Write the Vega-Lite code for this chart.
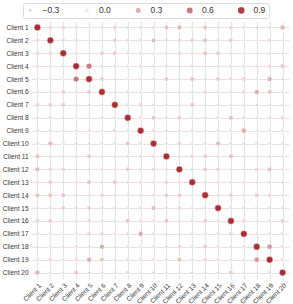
{
"$schema": "https://vega.github.io/schema/vega-lite/v6.json",
"width": 258, "height": 258,
"padding": {"left": 2, "top": 2, "right": 0, "bottom": 0},
"config": {
  "view": {"stroke": null},
  "font": "Liberation Sans",
  "axis": {"domain": false, "ticks": false, "grid": true, "gridColor": "#e2e2e2", "gridWidth": 1, "labelFont": "Liberation Sans", "labelFontSize": 6.5, "labelColor": "#333333", "labelPadding": 3, "title": null},
  "legend": {"orient": "none", "legendX": -8, "legendY": -18, "direction": "horizontal", "strokeColor": "#dddddd", "padding": 3, "cornerRadius": 2, "labelFont": "Liberation Sans", "labelFontSize": 8.5, "labelColor": "#333333", "columnPadding": 22.5, "labelOffset": 8, "symbolStrokeWidth": 0, "title": null}
},
"data": {"values": [
{"r":1,"c":1,"v":1},{"r":1,"c":2,"v":0.1},{"r":1,"c":3,"v":0.1},{"r":1,"c":4,"v":0.05},{"r":1,"c":5,"v":0},{"r":1,"c":6,"v":0.05},{"r":1,"c":7,"v":0.12},{"r":1,"c":8,"v":-0.22},{"r":1,"c":9,"v":0.05},{"r":1,"c":10,"v":0.05},{"r":1,"c":11,"v":0.2},{"r":1,"c":12,"v":0.25},{"r":1,"c":13,"v":0.03},{"r":1,"c":14,"v":0.18},{"r":1,"c":15,"v":-0.12},{"r":1,"c":16,"v":0.12},{"r":1,"c":17,"v":0.04},{"r":1,"c":18,"v":-0.22},{"r":1,"c":19,"v":0.04},{"r":1,"c":20,"v":0.28},
{"r":2,"c":1,"v":0.1},{"r":2,"c":2,"v":1},{"r":2,"c":3,"v":0.1},{"r":2,"c":4,"v":0.03},{"r":2,"c":5,"v":0},{"r":2,"c":6,"v":-0.12},{"r":2,"c":7,"v":0.15},{"r":2,"c":8,"v":0.05},{"r":2,"c":9,"v":0.05},{"r":2,"c":10,"v":0.25},{"r":2,"c":11,"v":0.04},{"r":2,"c":12,"v":0.1},{"r":2,"c":13,"v":0.15},{"r":2,"c":14,"v":0.2},{"r":2,"c":15,"v":0.04},{"r":2,"c":16,"v":0.15},{"r":2,"c":17,"v":0},{"r":2,"c":18,"v":0},{"r":2,"c":19,"v":0.1},{"r":2,"c":20,"v":0},
{"r":3,"c":1,"v":0.1},{"r":3,"c":2,"v":0.1},{"r":3,"c":3,"v":1},{"r":3,"c":4,"v":0.03},{"r":3,"c":5,"v":0},{"r":3,"c":6,"v":0.15},{"r":3,"c":7,"v":0.15},{"r":3,"c":8,"v":-0.12},{"r":3,"c":9,"v":0.04},{"r":3,"c":10,"v":0},{"r":3,"c":11,"v":0.04},{"r":3,"c":12,"v":0.1},{"r":3,"c":13,"v":0.04},{"r":3,"c":14,"v":0.2},{"r":3,"c":15,"v":0.15},{"r":3,"c":16,"v":0.04},{"r":3,"c":17,"v":0},{"r":3,"c":18,"v":0.04},{"r":3,"c":19,"v":0.03},{"r":3,"c":20,"v":-0.08},
{"r":4,"c":1,"v":0.05},{"r":4,"c":2,"v":0.03},{"r":4,"c":3,"v":0.03},{"r":4,"c":4,"v":1},{"r":4,"c":5,"v":0.6},{"r":4,"c":6,"v":0.05},{"r":4,"c":7,"v":0.04},{"r":4,"c":8,"v":0},{"r":4,"c":9,"v":0.04},{"r":4,"c":10,"v":-0.12},{"r":4,"c":11,"v":0.04},{"r":4,"c":12,"v":-0.25},{"r":4,"c":13,"v":0.04},{"r":4,"c":14,"v":-0.28},{"r":4,"c":15,"v":-0.1},{"r":4,"c":16,"v":0.03},{"r":4,"c":17,"v":0.03},{"r":4,"c":18,"v":0.04},{"r":4,"c":19,"v":0.06},{"r":4,"c":20,"v":0.18},
{"r":5,"c":1,"v":0},{"r":5,"c":2,"v":0},{"r":5,"c":3,"v":0},{"r":5,"c":4,"v":0.6},{"r":5,"c":5,"v":1},{"r":5,"c":6,"v":0.15},{"r":5,"c":7,"v":-0.22},{"r":5,"c":8,"v":0},{"r":5,"c":9,"v":0.05},{"r":5,"c":10,"v":-0.12},{"r":5,"c":11,"v":0.15},{"r":5,"c":12,"v":-0.08},{"r":5,"c":13,"v":0.2},{"r":5,"c":14,"v":0.05},{"r":5,"c":15,"v":0.15},{"r":5,"c":16,"v":0.1},{"r":5,"c":17,"v":0.12},{"r":5,"c":18,"v":0.04},{"r":5,"c":19,"v":0.3},{"r":5,"c":20,"v":-0.22},
{"r":6,"c":1,"v":0.05},{"r":6,"c":2,"v":-0.12},{"r":6,"c":3,"v":0.15},{"r":6,"c":4,"v":0.05},{"r":6,"c":5,"v":0.15},{"r":6,"c":6,"v":1},{"r":6,"c":7,"v":-0.22},{"r":6,"c":8,"v":0.05},{"r":6,"c":9,"v":0},{"r":6,"c":10,"v":0.03},{"r":6,"c":11,"v":0.04},{"r":6,"c":12,"v":0.04},{"r":6,"c":13,"v":-0.12},{"r":6,"c":14,"v":0.1},{"r":6,"c":15,"v":0.03},{"r":6,"c":16,"v":0.04},{"r":6,"c":17,"v":0.1},{"r":6,"c":18,"v":0.32},{"r":6,"c":19,"v":0.2},{"r":6,"c":20,"v":0.03},
{"r":7,"c":1,"v":0.12},{"r":7,"c":2,"v":0.15},{"r":7,"c":3,"v":0.15},{"r":7,"c":4,"v":0.04},{"r":7,"c":5,"v":-0.22},{"r":7,"c":6,"v":-0.22},{"r":7,"c":7,"v":1},{"r":7,"c":8,"v":0.04},{"r":7,"c":9,"v":0.1},{"r":7,"c":10,"v":0.04},{"r":7,"c":11,"v":0.04},{"r":7,"c":12,"v":0.03},{"r":7,"c":13,"v":0.18},{"r":7,"c":14,"v":-0.12},{"r":7,"c":15,"v":-0.12},{"r":7,"c":16,"v":0.03},{"r":7,"c":17,"v":0.03},{"r":7,"c":18,"v":-0.22},{"r":7,"c":19,"v":-0.12},{"r":7,"c":20,"v":0.04},
{"r":8,"c":1,"v":-0.22},{"r":8,"c":2,"v":0.05},{"r":8,"c":3,"v":-0.12},{"r":8,"c":4,"v":0},{"r":8,"c":5,"v":0},{"r":8,"c":6,"v":0.05},{"r":8,"c":7,"v":0.04},{"r":8,"c":8,"v":1},{"r":8,"c":9,"v":0.03},{"r":8,"c":10,"v":0.18},{"r":8,"c":11,"v":-0.08},{"r":8,"c":12,"v":0.15},{"r":8,"c":13,"v":0.04},{"r":8,"c":14,"v":0.04},{"r":8,"c":15,"v":0.03},{"r":8,"c":16,"v":0.2},{"r":8,"c":17,"v":0.05},{"r":8,"c":18,"v":0.04},{"r":8,"c":19,"v":0.04},{"r":8,"c":20,"v":0.08},
{"r":9,"c":1,"v":0.05},{"r":9,"c":2,"v":0.05},{"r":9,"c":3,"v":0.04},{"r":9,"c":4,"v":0.04},{"r":9,"c":5,"v":0.05},{"r":9,"c":6,"v":0},{"r":9,"c":7,"v":0.1},{"r":9,"c":8,"v":0.03},{"r":9,"c":9,"v":1},{"r":9,"c":10,"v":0.05},{"r":9,"c":11,"v":-0.22},{"r":9,"c":12,"v":-0.1},{"r":9,"c":13,"v":0.04},{"r":9,"c":14,"v":-0.12},{"r":9,"c":15,"v":0.03},{"r":9,"c":16,"v":0.04},{"r":9,"c":17,"v":0.32},{"r":9,"c":18,"v":0},{"r":9,"c":19,"v":0.03},{"r":9,"c":20,"v":0.03},
{"r":10,"c":1,"v":0.05},{"r":10,"c":2,"v":0.25},{"r":10,"c":3,"v":0},{"r":10,"c":4,"v":-0.12},{"r":10,"c":5,"v":-0.12},{"r":10,"c":6,"v":0.03},{"r":10,"c":7,"v":0.04},{"r":10,"c":8,"v":0.18},{"r":10,"c":9,"v":0.05},{"r":10,"c":10,"v":1},{"r":10,"c":11,"v":0.04},{"r":10,"c":12,"v":0.1},{"r":10,"c":13,"v":0.03},{"r":10,"c":14,"v":0.03},{"r":10,"c":15,"v":0.25},{"r":10,"c":16,"v":0.04},{"r":10,"c":17,"v":-0.1},{"r":10,"c":18,"v":0.03},{"r":10,"c":19,"v":0.03},{"r":10,"c":20,"v":-0.1},
{"r":11,"c":1,"v":0.2},{"r":11,"c":2,"v":0.04},{"r":11,"c":3,"v":0.04},{"r":11,"c":4,"v":0.04},{"r":11,"c":5,"v":0.15},{"r":11,"c":6,"v":0.04},{"r":11,"c":7,"v":0.04},{"r":11,"c":8,"v":-0.08},{"r":11,"c":9,"v":-0.22},{"r":11,"c":10,"v":0.04},{"r":11,"c":11,"v":1},{"r":11,"c":12,"v":0.04},{"r":11,"c":13,"v":0.1},{"r":11,"c":14,"v":0.15},{"r":11,"c":15,"v":0.04},{"r":11,"c":16,"v":0.2},{"r":11,"c":17,"v":-0.22},{"r":11,"c":18,"v":0.04},{"r":11,"c":19,"v":0.04},{"r":11,"c":20,"v":0.03},
{"r":12,"c":1,"v":0.25},{"r":12,"c":2,"v":0.1},{"r":12,"c":3,"v":0.1},{"r":12,"c":4,"v":-0.25},{"r":12,"c":5,"v":-0.08},{"r":12,"c":6,"v":0.04},{"r":12,"c":7,"v":0.03},{"r":12,"c":8,"v":0.15},{"r":12,"c":9,"v":-0.1},{"r":12,"c":10,"v":0.1},{"r":12,"c":11,"v":0.04},{"r":12,"c":12,"v":1},{"r":12,"c":13,"v":0.04},{"r":12,"c":14,"v":0.15},{"r":12,"c":15,"v":0.1},{"r":12,"c":16,"v":0.04},{"r":12,"c":17,"v":-0.25},{"r":12,"c":18,"v":0.1},{"r":12,"c":19,"v":0.2},{"r":12,"c":20,"v":0.03},
{"r":13,"c":1,"v":0.03},{"r":13,"c":2,"v":0.15},{"r":13,"c":3,"v":0.04},{"r":13,"c":4,"v":0.04},{"r":13,"c":5,"v":0.2},{"r":13,"c":6,"v":-0.12},{"r":13,"c":7,"v":0.18},{"r":13,"c":8,"v":0.04},{"r":13,"c":9,"v":0.04},{"r":13,"c":10,"v":0.03},{"r":13,"c":11,"v":0.1},{"r":13,"c":12,"v":0.04},{"r":13,"c":13,"v":1},{"r":13,"c":14,"v":0.04},{"r":13,"c":15,"v":0.03},{"r":13,"c":16,"v":0.04},{"r":13,"c":17,"v":0.03},{"r":13,"c":18,"v":0.04},{"r":13,"c":19,"v":-0.1},{"r":13,"c":20,"v":-0.18},
{"r":14,"c":1,"v":0.18},{"r":14,"c":2,"v":0.2},{"r":14,"c":3,"v":0.2},{"r":14,"c":4,"v":-0.28},{"r":14,"c":5,"v":0.05},{"r":14,"c":6,"v":0.1},{"r":14,"c":7,"v":-0.12},{"r":14,"c":8,"v":0.04},{"r":14,"c":9,"v":-0.12},{"r":14,"c":10,"v":0.03},{"r":14,"c":11,"v":0.15},{"r":14,"c":12,"v":0.15},{"r":14,"c":13,"v":0.04},{"r":14,"c":14,"v":1},{"r":14,"c":15,"v":0.03},{"r":14,"c":16,"v":0.15},{"r":14,"c":17,"v":0.03},{"r":14,"c":18,"v":0.15},{"r":14,"c":19,"v":0.1},{"r":14,"c":20,"v":-0.1},
{"r":15,"c":1,"v":-0.12},{"r":15,"c":2,"v":0.04},{"r":15,"c":3,"v":0.15},{"r":15,"c":4,"v":-0.1},{"r":15,"c":5,"v":0.15},{"r":15,"c":6,"v":0.03},{"r":15,"c":7,"v":-0.12},{"r":15,"c":8,"v":0.03},{"r":15,"c":9,"v":0.03},{"r":15,"c":10,"v":0.25},{"r":15,"c":11,"v":0.04},{"r":15,"c":12,"v":0.1},{"r":15,"c":13,"v":0.03},{"r":15,"c":14,"v":0.03},{"r":15,"c":15,"v":1},{"r":15,"c":16,"v":0.03},{"r":15,"c":17,"v":-0.1},{"r":15,"c":18,"v":0.03},{"r":15,"c":19,"v":0.05},{"r":15,"c":20,"v":-0.12},
{"r":16,"c":1,"v":0.12},{"r":16,"c":2,"v":0.15},{"r":16,"c":3,"v":0.04},{"r":16,"c":4,"v":0.03},{"r":16,"c":5,"v":0.1},{"r":16,"c":6,"v":0.04},{"r":16,"c":7,"v":0.03},{"r":16,"c":8,"v":0.2},{"r":16,"c":9,"v":0.04},{"r":16,"c":10,"v":0.04},{"r":16,"c":11,"v":0.2},{"r":16,"c":12,"v":0.04},{"r":16,"c":13,"v":0.04},{"r":16,"c":14,"v":0.15},{"r":16,"c":15,"v":0.03},{"r":16,"c":16,"v":1},{"r":16,"c":17,"v":0.1},{"r":16,"c":18,"v":0.04},{"r":16,"c":19,"v":0.04},{"r":16,"c":20,"v":0.15},
{"r":17,"c":1,"v":0.04},{"r":17,"c":2,"v":0},{"r":17,"c":3,"v":0},{"r":17,"c":4,"v":0.03},{"r":17,"c":5,"v":0.12},{"r":17,"c":6,"v":0.1},{"r":17,"c":7,"v":0.03},{"r":17,"c":8,"v":0.05},{"r":17,"c":9,"v":0.32},{"r":17,"c":10,"v":-0.1},{"r":17,"c":11,"v":-0.22},{"r":17,"c":12,"v":-0.25},{"r":17,"c":13,"v":0.03},{"r":17,"c":14,"v":0.03},{"r":17,"c":15,"v":-0.1},{"r":17,"c":16,"v":0.1},{"r":17,"c":17,"v":1},{"r":17,"c":18,"v":0.04},{"r":17,"c":19,"v":-0.1},{"r":17,"c":20,"v":0.03},
{"r":18,"c":1,"v":-0.22},{"r":18,"c":2,"v":0},{"r":18,"c":3,"v":0.04},{"r":18,"c":4,"v":0.04},{"r":18,"c":5,"v":0.04},{"r":18,"c":6,"v":0.32},{"r":18,"c":7,"v":-0.22},{"r":18,"c":8,"v":0.04},{"r":18,"c":9,"v":0},{"r":18,"c":10,"v":0.03},{"r":18,"c":11,"v":0.04},{"r":18,"c":12,"v":0.1},{"r":18,"c":13,"v":0.04},{"r":18,"c":14,"v":0.15},{"r":18,"c":15,"v":0.03},{"r":18,"c":16,"v":0.04},{"r":18,"c":17,"v":0.04},{"r":18,"c":18,"v":1},{"r":18,"c":19,"v":0.42},{"r":18,"c":20,"v":0.04},
{"r":19,"c":1,"v":0.04},{"r":19,"c":2,"v":0.1},{"r":19,"c":3,"v":0.03},{"r":19,"c":4,"v":0.06},{"r":19,"c":5,"v":0.3},{"r":19,"c":6,"v":0.2},{"r":19,"c":7,"v":-0.12},{"r":19,"c":8,"v":0.04},{"r":19,"c":9,"v":0.03},{"r":19,"c":10,"v":0.03},{"r":19,"c":11,"v":0.04},{"r":19,"c":12,"v":0.2},{"r":19,"c":13,"v":-0.1},{"r":19,"c":14,"v":0.1},{"r":19,"c":15,"v":0.05},{"r":19,"c":16,"v":0.04},{"r":19,"c":17,"v":-0.1},{"r":19,"c":18,"v":0.42},{"r":19,"c":19,"v":1},{"r":19,"c":20,"v":0.05},
{"r":20,"c":1,"v":0.28},{"r":20,"c":2,"v":0},{"r":20,"c":3,"v":-0.08},{"r":20,"c":4,"v":0.18},{"r":20,"c":5,"v":-0.22},{"r":20,"c":6,"v":0.03},{"r":20,"c":7,"v":0.04},{"r":20,"c":8,"v":0.08},{"r":20,"c":9,"v":0.03},{"r":20,"c":10,"v":-0.1},{"r":20,"c":11,"v":0.03},{"r":20,"c":12,"v":0.03},{"r":20,"c":13,"v":-0.18},{"r":20,"c":14,"v":-0.1},{"r":20,"c":15,"v":-0.12},{"r":20,"c":16,"v":0.15},{"r":20,"c":17,"v":0.03},{"r":20,"c":18,"v":0.04},{"r":20,"c":19,"v":0.05},{"r":20,"c":20,"v":1}
]},
"mark": {"type": "circle", "opacity": 1, "stroke": "white", "strokeWidth": 0.6},
"encoding": {
  "x": {"field": "c", "type": "ordinal", "axis": {"labelExpr": "'Client ' + datum.value", "labelAngle": -45}},
  "y": {"field": "r", "type": "ordinal", "axis": {"labelExpr": "'Client ' + datum.value", "minExtent": 28, "maxExtent": 28}},
  "color": {"field": "v", "type": "quantitative", "scale": {"domain": [-1, 0, 1], "range": ["#3b6fb6", "#f2e7e7", "#aa2f35"], "interpolate": "rgb"}, "legend": {"type": "symbol", "values": [-0.3, 0, 0.3, 0.6, 0.9], "format": ".1f"}},
  "size": {"field": "v", "type": "quantitative", "scale": {"domain": [-1, 0, 1], "range": [-24, 16, 46], "zero": false}, "legend": {"type": "symbol", "values": [-0.3, 0, 0.3, 0.6, 0.9], "format": ".1f"}}
}
}
